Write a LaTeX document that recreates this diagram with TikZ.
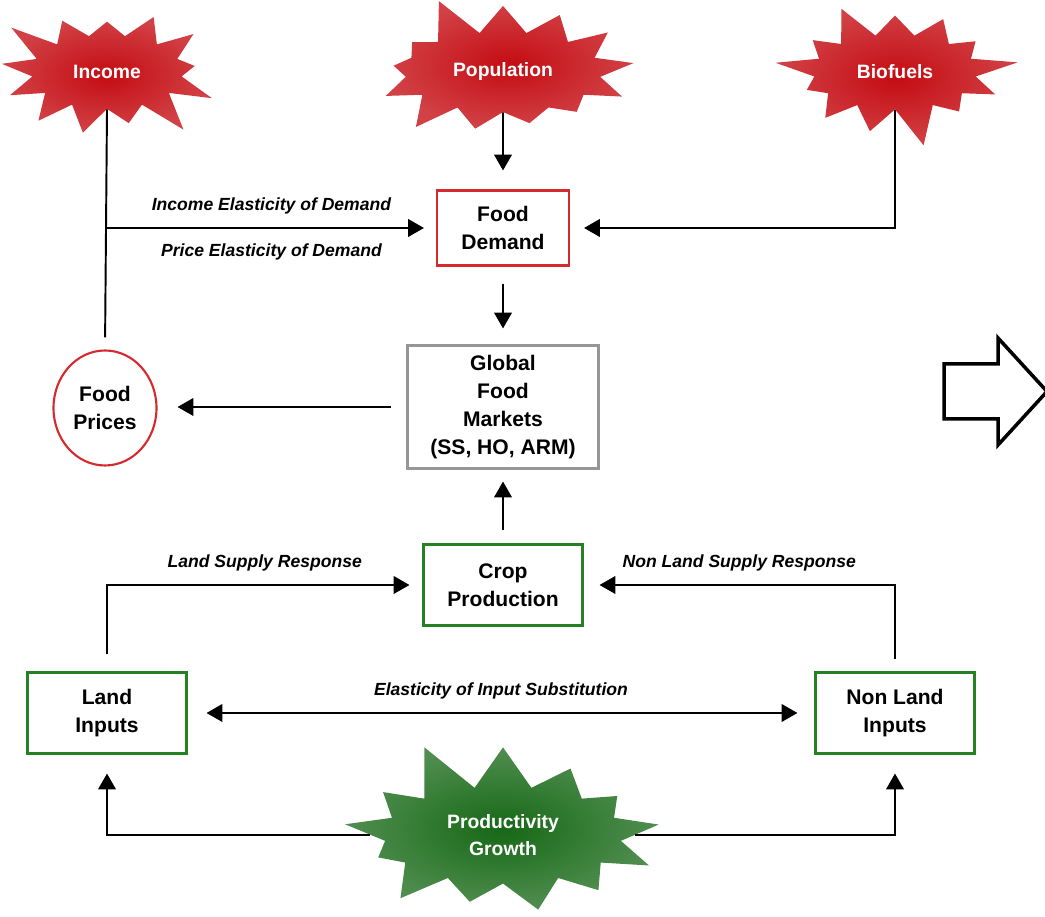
\documentclass[tikz,border=0pt]{standalone}
\usepackage{fontspec}
\setmainfont{Liberation Sans}
\usetikzlibrary{arrows.meta, positioning, calc, shapes.symbols, shapes.geometric}
\definecolor{burstred}{RGB}{196,12,18}
\definecolor{burstgreen}{RGB}{22,104,22}
\definecolor{demandcol}{RGB}{212,42,46}
\definecolor{cropcol}{RGB}{36,130,36}
\definecolor{marketcol}{RGB}{150,150,150}

\begin{document}
\begin{tikzpicture}[
  font=\fontsize{12}{16}\selectfont\bfseries,
  driver/.style={starburst, starburst points=13, starburst point height=0.85cm,
                 inner xsep=11pt, inner ysep=11pt,
                 draw=none, text=white,
                 inner color=burstred, outer color=burstred!78!white,
                 font=\fontsize{11}{15}\selectfont\bfseries, align=center},
  box/.style={draw, line width=1.2pt, fill=white, align=center,
              minimum width=3.18cm, minimum height=1.62cm},
  flow/.style={-{Triangle[length=9pt, width=10pt]}, line width=1.1pt},
  link/.style={line width=1.1pt},
  elast/.style={font=\fontsize{10}{12}\selectfont\bfseries\itshape}
]
  \useasboundingbox (0,0) rectangle (20.9,18.34);

  \node[driver, random starburst=3] (income) at (2.14,16.9) {Income};
  \node[driver, random starburst=5] (population) at (10.06,16.9) {Population};
  \node[driver, random starburst=9] (biofuels) at (17.9,16.9) {Biofuels};

  \node[box, draw=demandcol, minimum width=2.64cm, minimum height=1.5cm]
    (demand) at (10.06,13.78) {Food\\Demand};
  \node[box, draw=marketcol, minimum width=3.82cm, minimum height=2.46cm]
    (markets) at (10.06,10.2) {Global\\Food\\Markets\\(SS, HO, ARM)};
  \node[ellipse, draw=demandcol, line width=1.2pt, align=center, inner sep=0pt,
        minimum width=2.06cm, minimum height=2.3cm]
    (prices) at (2.1,10.18) {Food\\Prices};
  \node[box, draw=cropcol] (crop) at (10.06,6.64) {Crop\\Production};
  \node[box, draw=cropcol] (land) at (2.14,4.08) {Land\\Inputs};
  \node[box, draw=cropcol] (nonland) at (17.9,4.08) {Non Land\\Inputs};
  \node[driver, inner color=burstgreen, outer color=burstgreen!75!white,
        inner xsep=16pt, inner ysep=8pt, starburst point height=1.05cm,
        random starburst=11]
    (growth) at (10.06,1.64) {Productivity\\Growth};

  \draw[flow, shorten >=0.38cm] (population.south) -- (demand.north);
  \draw[link, shorten >=0.24cm] (income.south) -- (prices.north);
  \draw[flow, shorten >=0.24cm] (income.south |- demand.west) -- (demand.west)
    node[midway, above=4pt, elast] {Income Elasticity of Demand}
    node[midway, below=5pt, elast] {Price Elasticity of Demand};
  \draw[flow, shorten >=0.28cm] (biofuels.south) |- (demand.east);
  \draw[flow, shorten <=0.34cm, shorten >=0.32cm] (demand.south) -- (markets.north);
  \draw[flow, shorten <=0.3cm, shorten >=0.4cm]
    (markets.west) -- (markets.west -| prices.east);
  \draw[flow, shorten <=0.26cm, shorten >=0.24cm] (crop.north) -- (markets.south);
  \draw[flow, shorten <=0.34cm, shorten >=0.26cm] (land.north) |- (crop.west)
    node[pos=0.75, above=4pt, elast] {Land Supply Response};
  \draw[flow, shorten <=0.24cm, shorten >=0.32cm] (nonland.north) |- (crop.east)
    node[pos=0.75, above=4pt, elast] {Non Land Supply Response};
  \draw[flow, {Triangle[length=9pt, width=10pt]}-{Triangle[length=9pt, width=10pt]},
        shorten <=0.38cm, shorten >=0.34cm] (land.east) -- (nonland.west)
    node[midway, above=4pt, elast] {Elasticity of Input Substitution};
  \draw[flow, shorten >=0.38cm] (growth.west) -| (land.south);
  \draw[flow, shorten >=0.38cm] (growth.east) -| (nonland.south);

  \draw[line width=2pt, line join=miter] (18.88,11.06) -- (19.96,11.06)
    -- (19.96,11.58) -- (20.94,10.51) -- (19.96,9.44) -- (19.96,9.96)
    -- (18.88,9.96) -- cycle;
\end{tikzpicture}
\end{document}
